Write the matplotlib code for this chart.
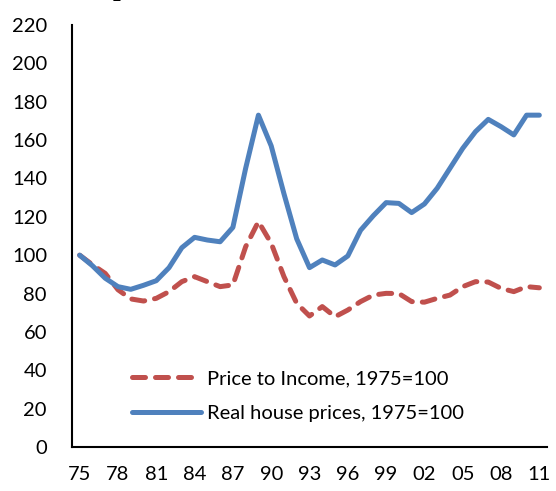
import matplotlib.pyplot as plt
import numpy as np

years = np.arange(1975, 2012)
real_prices = [100, 94.5, 88, 83.6, 82.2, 84.3, 86.7, 93.5, 103.9, 109.3,
               107.9, 107, 114.5, 145.3, 173, 157, 132, 108.5, 93.5, 97.5,
               94.9, 99.6, 113, 120.6, 127.4, 127, 122.2, 126.7, 134.9, 145.3,
               155.7, 164.4, 170.8, 167, 162.7, 173, 173]
price_income = [100, 95, 90.5, 82, 77.2, 76.1, 77.5, 81, 86.2, 88.8,
                86.2, 83.6, 84.5, 104.4, 117.5, 106.2, 88.8, 74.9, 68.3, 73.2,
                67.9, 71.4, 75.8, 79.2, 80.1, 80, 75.8, 75.5, 77.5, 79.2,
                83.6, 86.2, 86, 82.7, 81, 83.6, 83]
tick_years = np.arange(1975, 2012, 3)
tick_labels = ["%02d" % (y % 100) for y in tick_years]

plt.rcParams['font.family'] = ['Lato', 'DejaVu Sans']

fig = plt.figure(figsize=(5.56, 4.91), dpi=100)
ax = fig.add_axes([72/556, 44/491, 475/556, 422/491])

red, = ax.plot(years, price_income, color='#C0504D', lw=3.6,
               dashes=(2.6, 2), dash_capstyle='round',
               label='Price to Income, 1975=100')
blue, = ax.plot(years, real_prices, color='#4F81BD', lw=3.6,
                solid_capstyle='round', solid_joinstyle='round',
                label='Real house prices, 1975=100')

ax.set_xlim(1974.4, 2011.6)
ax.set_ylim(0, 220)
ax.set_yticks(range(0, 221, 20))
ax.set_xticks(tick_years)
ax.set_xticklabels(tick_labels)
ax.tick_params(length=0, labelsize=14.5, colors='black')
ax.tick_params(axis='y', pad=18)
ax.tick_params(axis='x', pad=14)
for s in ['top', 'right']:
    ax.spines[s].set_visible(False)
for s in ['left', 'bottom']:
    ax.spines[s].set_linewidth(1.5)

leg = ax.legend(handles=[red, blue], loc='upper left',
                bbox_to_anchor=(114/556, 1 - 352/491), bbox_transform=fig.transFigure,
                frameon=False, fontsize=14.5, handlelength=3.4,
                handletextpad=0.3, labelspacing=0.9)

# cut-off title remnant at the top
fig.text(120/556, 1 + 5/491, 'p', family='Liberation Serif', weight='bold',
         fontsize=20, ha='center', va='baseline')

fig.savefig('out.png', dpi=100)
